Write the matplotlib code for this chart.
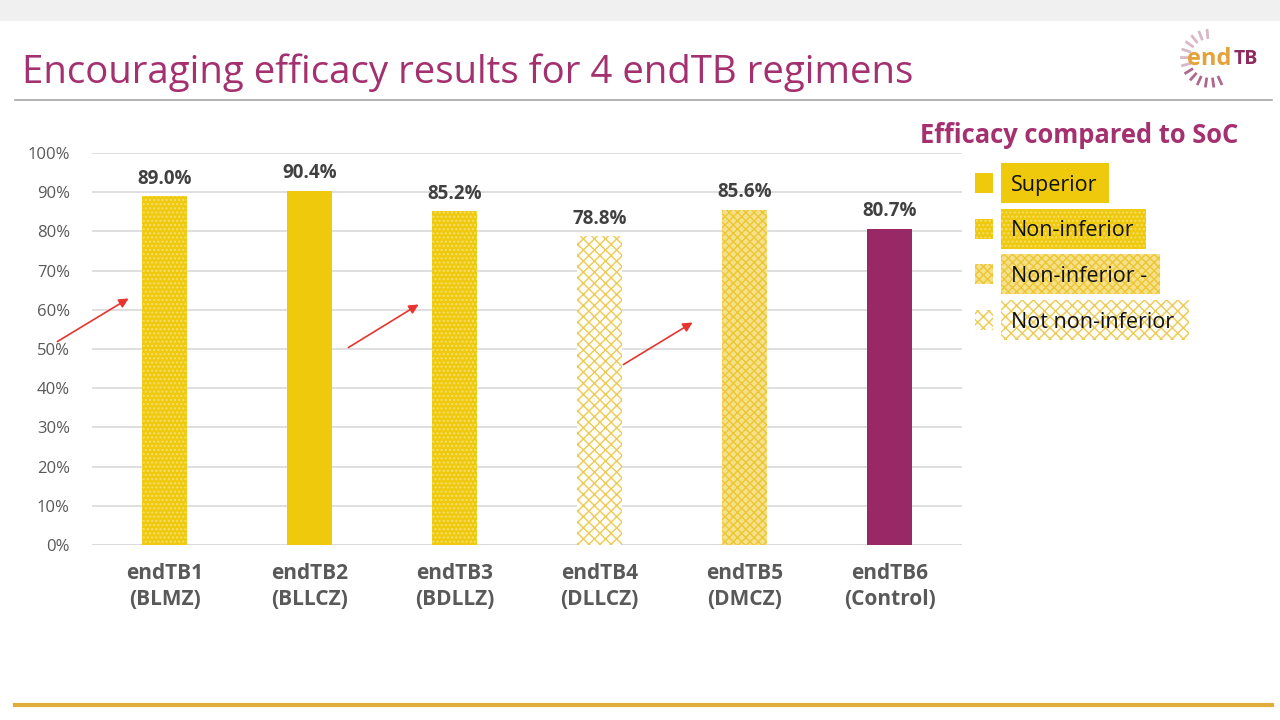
import numpy as np
import matplotlib.pyplot as plt
from matplotlib.patches import Rectangle, FancyArrowPatch

plt.rcParams['font.family'] = ['Open Sans', 'DejaVu Sans']
plt.rcParams['hatch.linewidth'] = 1.0

regimens = ["endTB1\n(BLMZ)", "endTB2\n(BLLCZ)", "endTB3\n(BDLLZ)",
            "endTB4\n(DLLCZ)", "endTB5\n(DMCZ)", "endTB6\n(Control)"]
efficacy = [89.0, 90.4, 85.2, 78.8, 85.6, 80.7]
status = ["Non-inferior", "Superior", "Non-inferior", "Not non-inferior",
          "Non-inferior -", "Control"]

legend_labels = ["Superior", "Non-inferior", "Non-inferior -", "Not non-inferior"]

gold = "#EEC90C"
purple = "#982866"
title_col = "#A4306F"

# face, hatch, hatch colour per status
styles = {
    "Superior": (gold, None, gold),
    "Non-inferior": (gold, "....", "#F6DE70"),
    "Non-inferior -": ("#F7E08A", "xxxx", "#EBC735"),
    "Not non-inferior": ("#FFFDF8", "xxx", "#EBCB55"),
    "Control": (purple, None, purple),
}

fig = plt.figure(figsize=(12.8, 7.2), dpi=100)
fig.patch.set_facecolor("white")

# top band and slide lines
fig.add_artist(Rectangle((0, 0.972), 1, 0.028, transform=fig.transFigure,
                         color="#F0F0F0", zorder=0))
fig.add_artist(plt.Line2D([0.012, 0.994], [0.861, 0.861], color="#A6A6A6", lw=1.2))
fig.add_artist(plt.Line2D([0.012, 0.994], [0.021, 0.021], color="#E2AC3A", lw=3))

fig.text(0.017, 0.899, "Encouraging efficacy results for 4 endTB regimens",
         fontsize=27.6, color=title_col, va="center", ha="left")

# logo
fig.text(0.9275, 0.918, "end", fontsize=17, color="#E3A33A", va="center", ha="left",
         fontweight="bold")
fig.text(0.9635, 0.918, "TB", fontsize=14, color="#8E2A5E", va="center", ha="left",
         fontweight="bold")
cx, cy = 0.945, 0.919
for a in np.linspace(95, 295, 13):
    r1, r2 = 0.029, 0.039
    t = np.deg2rad(a)
    fig.add_artist(plt.Line2D([cx + r1 * np.cos(t) * 0.5625, cx + r2 * np.cos(t) * 0.5625],
                              [cy + r1 * np.sin(t), cy + r2 * np.sin(t)],
                              color="#C79AAE" if a < 200 else "#8E2A5E", lw=2, alpha=0.7))

ax = fig.add_axes([0.0719, 0.243, 0.6797, 0.5444])
x = np.arange(len(regimens))
for i, (v, s) in enumerate(zip(efficacy, status)):
    fc, h, ec = styles[s]
    ax.bar(x[i], v, width=0.31, color=fc, hatch=h, edgecolor=ec, linewidth=0, zorder=3)
    ax.text(x[i], v + 1.9, f"{v:.1f}%", ha="center", va="bottom", fontsize=13.5,
            fontweight="bold", color="#404040")

ax.set_xlim(-0.5, 5.5)
ax.set_ylim(0, 100)
ax.set_yticks(np.arange(0, 101, 10))
ax.set_yticklabels([f"{t}%" for t in range(0, 101, 10)], fontsize=12, color="#595959")
ax.set_xticks(x)
ax.set_xticklabels(regimens, fontsize=15, fontweight="bold", color="#595959",
                   linespacing=1.3)
ax.tick_params(axis="both", length=0)
ax.tick_params(axis="x", pad=13)
ax.tick_params(axis="y", pad=16)
ax.grid(axis="y", color="#D9D9D9", lw=1.2, zorder=0)
for sp in ax.spines.values():
    sp.set_visible(False)
ax.axhline(0, color="#D9D9D9", lw=1.2, zorder=1)

# red arrows
for (x0, y0, x1, y1) in [(55, 343, 131, 297), (346, 349, 421, 303), (621, 366, 695, 321)]:
    fig.add_artist(FancyArrowPatch((x0 / 1280, 1 - y0 / 720), (x1 / 1280, 1 - y1 / 720),
                                   transform=fig.transFigure, arrowstyle="-|>",
                                   mutation_scale=14, color="#E8342E", lw=1.2, zorder=10))

# legend
fig.text(0.7185, 0.812, "Efficacy compared to SoC", fontsize=18.4, fontweight="bold",
         color=title_col, va="center", ha="left")
rows_y = [183, 229, 274, 320]
box_w = [108, 145, 159, 188]
for lab, yy, bw in zip(legend_labels, rows_y, box_w):
    fc, h, ec = styles[lab]
    yf = 1 - yy / 720
    fig.add_artist(Rectangle((975 / 1280, yf - 10 / 720), 18 / 1280, 20 / 720,
                             transform=fig.transFigure, facecolor=fc, hatch=h,
                             edgecolor=ec, lw=0))
    fig.add_artist(Rectangle((1001 / 1280, yf - 20 / 720), bw / 1280, 40 / 720,
                             transform=fig.transFigure, facecolor=fc, hatch=h,
                             edgecolor=ec, lw=0))
    fig.text(1011 / 1280, yf - 2 / 720, lab, fontsize=15.5, color="#111111",
             va="center", ha="left")

fig.savefig("out.png", dpi=100)
